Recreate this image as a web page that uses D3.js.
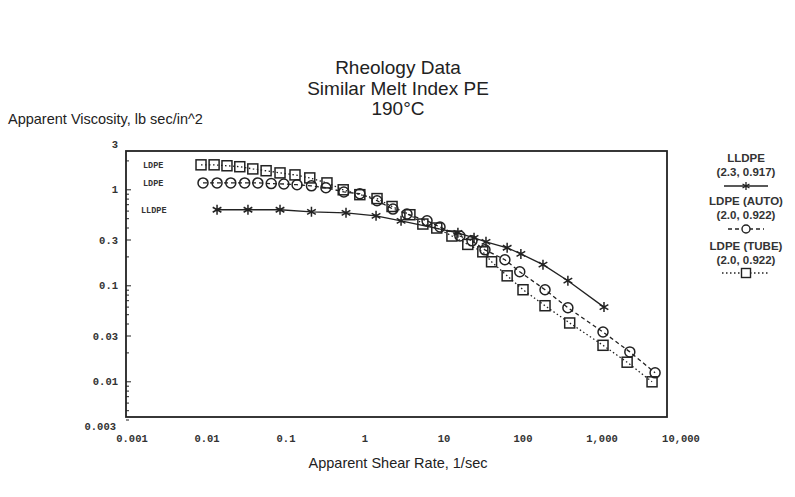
<!DOCTYPE html>
<meta charset="utf-8">
<style>
body { margin: 0; background: #fff; }
.title { font-family: "Liberation Sans", Arial, sans-serif; font-size: 19px; fill: #222; text-anchor: middle; }
.axlabel { font-family: "Liberation Sans", Arial, sans-serif; font-size: 14.5px; fill: #222; }
.tick { font-family: "Liberation Mono", monospace; font-size: 10.5px; font-weight: bold; fill: #333; }
.legend { font-family: "Liberation Sans", Arial, sans-serif; font-size: 11.5px; font-weight: bold; fill: #333; text-anchor: middle; }
.inlabel { font-family: "Liberation Mono", monospace; font-size: 8.5px; font-weight: bold; fill: #333; }
</style>
<svg width="795" height="497"></svg>
<script src="https://d3js.org/d3.v7.min.js"></script>
<script>

// ---- data ----
var titleLines = ["Rheology Data", "Similar Melt Index PE", "190\u00B0C"];

var xTicks = [0.001, 0.01, 0.1, 1, 10, 100, 1000, 10000];
var xTickLabels = ["0.001", "0.01", "0.1", "1", "10", "100", "1,000", "10,000"];
var yTicks = [3, 1, 0.3, 0.1, 0.03, 0.01, 0.003];
var yTickLabels = ["3", "1", "0.3", "0.1", "0.03", "0.01", "0.003"];

// LDPE (TUBE) - squares
var tubeX = [0.0084, 0.0123, 0.0179, 0.026, 0.038, 0.056, 0.084, 0.13, 0.20, 0.33, 0.53, 0.86, 1.42, 2.2, 3.7, 5.4, 8.1, 12.6, 20, 31, 40, 63, 100, 190, 390, 1030, 2080, 4300];
var tubeY = [1.82, 1.82, 1.78, 1.74, 1.65, 1.58, 1.50, 1.43, 1.33, 1.18, 1.0, 0.89, 0.81, 0.67, 0.55, 0.44, 0.40, 0.33, 0.27, 0.226, 0.178, 0.127, 0.091, 0.062, 0.041, 0.024, 0.016, 0.010];

// LDPE (AUTO) - circles
var autoX = [0.0089, 0.0134, 0.020, 0.030, 0.044, 0.065, 0.094, 0.138, 0.21, 0.32, 0.54, 0.86, 1.42, 2.26, 3.4, 6.1, 8.9, 15.9, 22.6, 33, 59, 91, 190, 370, 1030, 2250, 4700];
var autoY = [1.18, 1.18, 1.18, 1.18, 1.18, 1.16, 1.15, 1.13, 1.10, 1.05, 0.95, 0.91, 0.77, 0.63, 0.56, 0.475, 0.41, 0.33, 0.294, 0.237, 0.187, 0.14, 0.091, 0.059, 0.033, 0.0205, 0.0124];

// LLDPE - stars
var lldpeX = [0.0134, 0.033, 0.084, 0.21, 0.575, 1.38, 2.86, 15, 24, 34, 63, 94, 179, 370, 1060];
var lldpeY = [0.62, 0.62, 0.62, 0.59, 0.576, 0.536, 0.475, 0.356, 0.316, 0.287, 0.249, 0.215, 0.166, 0.113, 0.060];

// ---- layout ----
var svg = d3.select("svg");
var frame = { left: 126, right: 667, top: 151, bottom: 417 };

var x = d3.scaleLog().domain([0.001, 10000]).range([128, 681]);
var y = d3.scaleLog().domain([3, 0.003]).range([144, 432]);

var ink = "#222";

// titles
svg.selectAll(".title").data(titleLines).enter()
  .append("text").attr("class", "title")
  .attr("x", 398).attr("y", function(d, i) { return 74 + i * 20.5; })
  .text(function(d) { return d; });

svg.append("text").attr("class", "axlabel").attr("x", 8).attr("y", 124)
  .text("Apparent Viscosity, lb sec/in^2");
svg.append("text").attr("class", "axlabel").attr("x", 398).attr("y", 468)
  .attr("text-anchor", "middle").text("Apparent Shear Rate, 1/sec");

// frame
svg.append("rect")
  .attr("x", frame.left).attr("y", frame.top)
  .attr("width", frame.right - frame.left).attr("height", frame.bottom - frame.top)
  .attr("fill", "none").attr("stroke", ink).attr("stroke-width", 1.8);

// y minor + major ticks (inside)
var minor = [];
[-3, -2, -1, 0].forEach(function(e) {
  for (var m = 1; m < 10; m++) {
    var v = m * Math.pow(10, e);
    if (v >= 0.0038 && v <= 2.6) minor.push(v);
  }
});
svg.append("g").selectAll("line").data(minor).enter().append("line")
  .attr("x1", frame.left).attr("x2", function(d) {
    return frame.left + (yTicks.indexOf(+d.toPrecision(3)) >= 0 ? 5 : 3);
  })
  .attr("y1", function(d) { return y(d); }).attr("y2", function(d) { return y(d); })
  .attr("stroke", ink).attr("stroke-width", 1);

// the bottom label sits a little higher so it clears "0.001"
svg.append("g").selectAll("text").data(yTicks).enter().append("text")
  .attr("class", "tick").attr("text-anchor", "end")
  .attr("x", function(d) { return d === 0.003 ? 116 : 118; })
  .attr("y", function(d) { return y(d) - (d === 0.003 ? 6 : 0); }).attr("dy", "0.35em")
  .text(function(d, i) { return yTickLabels[i]; });

svg.append("g").selectAll("text").data(xTicks).enter().append("text")
  .attr("class", "tick").attr("text-anchor", "middle")
  .attr("x", function(d) { return x(d) + (d === 0.001 ? 4 : 0); }).attr("y", 442)
  .text(function(d, i) { return xTickLabels[i]; });

// series
function pts(xs, ys) { return xs.map(function(v, i) { return [v, ys[i]]; }); }
var line = d3.line().x(function(d) { return x(d[0]); }).y(function(d) { return y(d[1]); });

var tube = pts(tubeX, tubeY), auto = pts(autoX, autoY), lldpe = pts(lldpeX, lldpeY);

svg.append("path").datum(lldpe).attr("d", line).attr("fill", "none")
  .attr("stroke", ink).attr("stroke-width", 1.3);
svg.append("path").datum(auto).attr("d", line).attr("fill", "none")
  .attr("stroke", ink).attr("stroke-width", 1.3).attr("stroke-dasharray", "4,3");
svg.append("path").datum(tube).attr("d", line).attr("fill", "none")
  .attr("stroke", ink).attr("stroke-width", 1.3).attr("stroke-dasharray", "1.5,2.5");

function starPath(r) {
  var p = "";
  [90, 30, 150].forEach(function(a) {
    var dx = r * Math.cos(a * Math.PI / 180), dy = r * Math.sin(a * Math.PI / 180);
    p += "M" + (-dx) + "," + (-dy) + "L" + dx + "," + dy;
  });
  return p;
}

svg.append("g").selectAll("rect").data(tube).enter().append("rect")
  .attr("x", function(d) { return x(d[0]) - 5; }).attr("y", function(d) { return y(d[1]) - 5; })
  .attr("width", 10).attr("height", 10)
  .attr("fill", "none").attr("stroke", ink).attr("stroke-width", 1.5);

svg.append("g").selectAll("circle").data(auto).enter().append("circle")
  .attr("cx", function(d) { return x(d[0]); }).attr("cy", function(d) { return y(d[1]); })
  .attr("r", 5).attr("fill", "none").attr("stroke", ink).attr("stroke-width", 1.5);

svg.append("g").selectAll("path").data(lldpe).enter().append("path")
  .attr("transform", function(d) { return "translate(" + x(d[0]) + "," + y(d[1]) + ")"; })
  .attr("d", starPath(5)).attr("stroke", ink).attr("stroke-width", 1.5);

// labels inside plot, next to the first points
svg.append("text").attr("class", "inlabel").attr("x", 143).attr("y", y(tubeY[0]) + 3).text("LDPE");
svg.append("text").attr("class", "inlabel").attr("x", 143).attr("y", y(autoY[0]) + 3).text("LDPE");
svg.append("text").attr("class", "inlabel").attr("x", 141).attr("y", y(lldpeY[0]) + 3).text("LLDPE");

// legend
var lg = svg.append("g").attr("transform", "translate(746,0)");
lg.append("text").attr("class", "legend").attr("y", 162).text("LLDPE");
lg.append("text").attr("class", "legend").attr("y", 176).text("(2.3, 0.917)");
lg.append("line").attr("x1", -22).attr("x2", 22).attr("y1", 186).attr("y2", 186)
  .attr("stroke", ink).attr("stroke-width", 1.3);
lg.append("path").attr("transform", "translate(0,186)").attr("d", starPath(4))
  .attr("stroke", ink).attr("stroke-width", 1.3);

lg.append("text").attr("class", "legend").attr("y", 205).text("LDPE (AUTO)");
lg.append("text").attr("class", "legend").attr("y", 219).text("(2.0, 0.922)");
lg.append("line").attr("x1", -18).attr("x2", 18).attr("y1", 229).attr("y2", 229)
  .attr("stroke", ink).attr("stroke-width", 1.3).attr("stroke-dasharray", "4,3");
lg.append("circle").attr("cx", 0).attr("cy", 229).attr("r", 4).attr("fill", "#fff")
  .attr("stroke", ink).attr("stroke-width", 1.4);

lg.append("text").attr("class", "legend").attr("y", 250).text("LDPE (TUBE)");
lg.append("text").attr("class", "legend").attr("y", 264).text("(2.0, 0.922)");
lg.append("line").attr("x1", -24).attr("x2", 24).attr("y1", 273).attr("y2", 273)
  .attr("stroke", ink).attr("stroke-width", 1.3).attr("stroke-dasharray", "1.5,2.5");
lg.append("rect").attr("x", -4.5).attr("y", 268.5).attr("width", 9).attr("height", 9)
  .attr("fill", "#fff").attr("stroke", ink).attr("stroke-width", 1.4);
</script>
